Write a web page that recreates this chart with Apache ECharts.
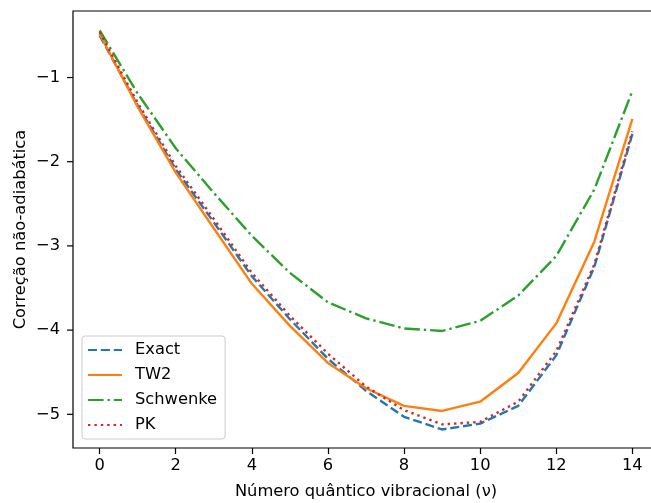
<!DOCTYPE html>
<html>
<head>
<meta charset="utf-8">
<script src="https://cdn.jsdelivr.net/npm/echarts@6/dist/echarts.min.js"></script>
<style>html,body{margin:0;padding:0;background:#fff}#c{width:651px;height:503px}</style>
</head>
<body>
<div id="c"></div>
<script>
const vib = [0,1,2,3,4,5,6,7,8,9,10,11,12,13,14];
const exact =    [-0.50,-1.33,-2.09,-2.72,-3.36,-3.87,-4.34,-4.72,-5.03,-5.18,-5.11,-4.90,-4.30,-3.25,-1.67];
const tw2 =      [-0.48,-1.35,-2.13,-2.79,-3.45,-3.95,-4.39,-4.69,-4.90,-4.96,-4.85,-4.51,-3.92,-2.95,-1.49];
const schwenke = [-0.44,-1.19,-1.84,-2.37,-2.88,-3.32,-3.67,-3.86,-3.98,-4.01,-3.89,-3.59,-3.12,-2.33,-1.16];
const pk =       [-0.46,-1.30,-2.05,-2.68,-3.32,-3.83,-4.28,-4.67,-4.95,-5.12,-5.09,-4.85,-4.25,-3.22,-1.64];
const xTicks = [0,2,4,6,8,10,12,14];
const yTicks = [-5,-4,-3,-2,-1];

const font = 'DejaVu Sans';
const fs = 16.3;
const fmt = v => String(v).replace('-', '\u2212');
const pairs = arr => vib.map((x,i)=>[x,arr[i]]);
const lw = 2.4;
function ser(name, data, color, type){
  return {name, type:'line', data:pairs(data), symbol:'none', showSymbol:false,
    lineStyle:{color, width:lw, type}, itemStyle:{color}, animation:false, z:2};
}
const chart = echarts.init(document.getElementById('c'), null, {renderer:'canvas'});
chart.setOption({
  animation:false,
  backgroundColor:'#fff',
  grid:{left:73, top:11, width:586, height:437, outerBoundsMode:'none', containLabel:false,
    show:true, borderColor:'#000', borderWidth:1.2, backgroundColor:'transparent'},
  xAxis:{type:'value', min:-0.7, max:14.7,
    name:'Número quântico vibracional (\u03bd)', nameLocation:'middle', nameGap:36, nameMoveOverlap:false,
    nameTextStyle:{fontFamily:font, fontSize:fs, color:'#000'},
    axisLine:{show:false}, splitLine:{show:false},
    axisTick:{show:true, customValues:xTicks, length:6, lineStyle:{color:'#000', width:1.2}},
    axisLabel:{customValues:xTicks, formatter:fmt, fontFamily:font, fontSize:fs, color:'#000', margin:10}
  },
  yAxis:{type:'value', min:-5.40, max:-0.21,
    name:'Correção não-adiabática', nameLocation:'middle', nameGap:44, nameRotate:90, nameMoveOverlap:false,
    nameTextStyle:{fontFamily:font, fontSize:fs, color:'#000'},
    axisLine:{show:false}, splitLine:{show:false},
    axisTick:{show:false},
    axisLabel:{customValues:yTicks, formatter:fmt, fontFamily:font, fontSize:fs, color:'#000', margin:13}
  },
  legend:{orient:'vertical', left:82, top:336, padding:[6,8,6,5],
    backgroundColor:'rgba(255,255,255,0.8)', borderColor:'#cccccc', borderWidth:1, borderRadius:3,
    itemWidth:34, itemHeight:16, itemGap:9,
    itemStyle:{opacity:0},
    textStyle:{fontFamily:font, fontSize:fs, color:'#000', padding:[0,0,0,8]},
    data:['Exact','TW2','Schwenke','PK']
  },
  series:[
    ser('Exact', exact, '#1f77b4', [9.0,3.9]),
    ser('TW2', tw2, '#ff7f0e', 'solid'),
    ser('Schwenke', schwenke, '#2ca02c', [15.6,3.9,2.4,3.9]),
    ser('PK', pk, '#d62728', [2.4,4.0])
  ]
});
// y-axis tick marks placed through the axis scale
const ticks = yTicks.map(v => {
  const p = chart.convertToPixel({xAxisIndex:0, yAxisIndex:0}, [-0.7, v]);
  return {type:'line', silent:true, shape:{x1:p[0]-6, y1:p[1], x2:p[0], y2:p[1]}, style:{stroke:'#000', lineWidth:1.2}};
});
chart.setOption({graphic:ticks});
</script>
</body>
</html>
